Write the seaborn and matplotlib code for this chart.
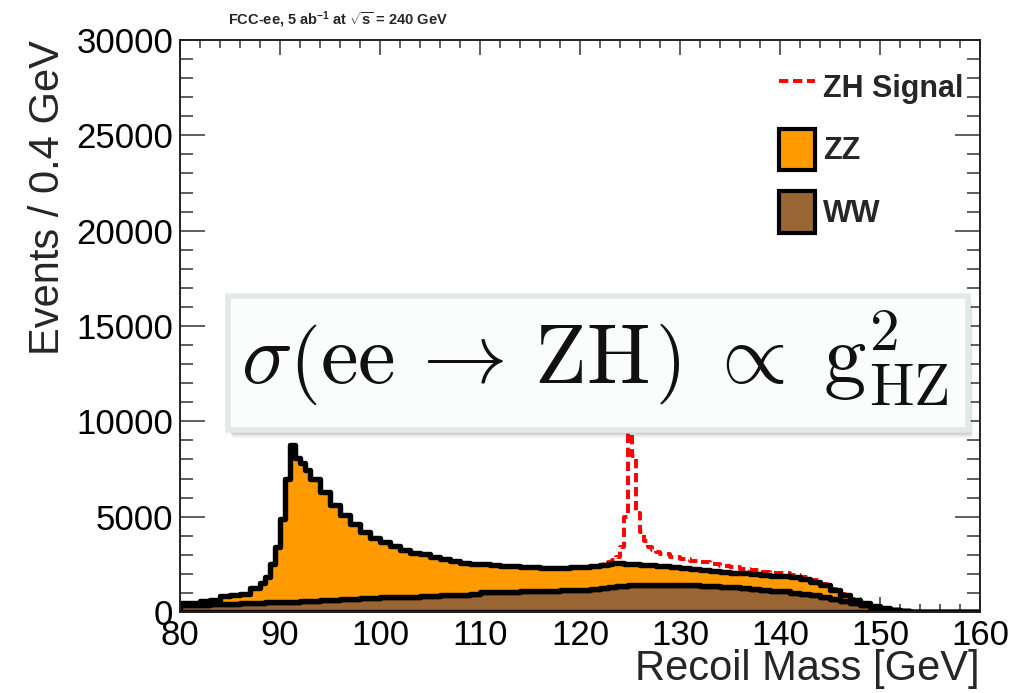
import numpy as np
import pandas as pd
import matplotlib
matplotlib.use("Agg")
import matplotlib.pyplot as plt
import seaborn as sns
from matplotlib.patches import Rectangle, Patch
from matplotlib.lines import Line2D
from matplotlib.ticker import MultipleLocator

# ---------------- data ----------------
# bin edges (GeV): coarse 1 GeV bins, finer bins around the Z and Higgs peaks
bin_edges = np.concatenate([
    np.linspace(80, 88, 9),
    np.linspace(88.5, 93, 10),
    np.linspace(94, 122, 29),
    np.linspace(122.4, 128, 15),
    np.linspace(129, 160, 32),
])

ww_events = [
    350, 370, 390, 410, 420, 440, 460, 480,
    490, 500, 510, 520, 530, 540, 545, 550, 560, 570,
    580, 610, 640, 660, 690, 720, 760, 790, 800, 800, 810, 830, 860, 880, 880,
    870, 950, 1040, 1060, 1070, 1070, 1080, 1080, 1090, 1110, 1140, 1160, 1180, 1230,
    1250, 1280, 1300, 1320, 1340, 1360, 1380, 1390, 1400, 1410, 1420, 1420, 1420, 1420, 1420,
    1420, 1420, 1420, 1400, 1380, 1340, 1320, 1300, 1260, 1220, 1180, 1120, 1080, 1020, 950,
    870, 780, 680, 580, 460, 350, 250, 180, 100, 40, 15, 8, 0, 0, 0, 0, 0,
]

zz_events = [
    100, 110, 210, 240, 400, 440, 490, 770,
    1010, 1350, 1990, 2880, 4370, 6460, 8200, 7550, 7240, 6880,
    6420, 5690, 4960, 4440, 3910, 3480, 3140, 2860, 2650, 2450, 2310, 2220, 2040, 1920, 1800,
    1690, 1550, 1480, 1420, 1350, 1330, 1300, 1290, 1240, 1210, 1190, 1190, 1200, 1190,
    1200, 1200, 1200, 1230, 1210, 1200, 1160, 1140, 1120, 1090, 1070, 1050, 1030, 1020, 1000,
    980, 930, 880, 850, 820, 790, 780, 770, 770, 760, 740, 760, 820, 830, 800,
    710, 620, 500, 320, 190, 100, 70, 50, 20, 10, 5, 2, 0, 0, 0, 0, 0,
]

zh_events = [
    0, 0, 0, 0, 0, 0, 0, 0,
    0, 0, 0, 0, 0, 0, 0, 0, 0, 0,
    0, 0, 0, 0, 0, 0, 0, 0, 0, 0, 0, 0, 0, 0, 0,
    0, 0, 0, 0, 0, 0, 0, 0, 0, 0, 0, 0, 0, 0,
    30, 60, 120, 200, 350, 870, 2460, 10470, 5680, 2700, 1710, 1230, 950, 810, 730,
    650, 550, 500, 450, 400, 370, 320, 310, 250, 220, 200, 170, 130, 110, 100,
    80, 60, 40, 30, 20, 10, 0, 0, 0, 0, 0, 0, 0, 0, 0, 0, 0,
]

processes = ["ZZ", "WW"]
legend_labels = ["ZH Signal", "ZZ", "WW"]
x_ticks = [80, 90, 100, 110, 120, 130, 140, 150, 160]
y_ticks = [0, 5000, 10000, 15000, 20000, 25000, 30000]

# ---------------- style ----------------
ORANGE = "#ff9a00"
BROWN = "#996633"
DASH = (0, (2.4, 1.2))

sns.set_theme(style="ticks")
plt.rcParams["font.family"] = ["Liberation Sans", "DejaVu Sans"]
plt.rcParams["mathtext.fontset"] = "custom"
plt.rcParams["mathtext.rm"] = "Liberation Sans"
plt.rcParams["mathtext.it"] = "Liberation Sans:italic"
plt.rcParams["mathtext.bf"] = "Liberation Sans:bold"

W, H = 1018, 693
fig = plt.figure(figsize=(W / 100, H / 100), dpi=100)
fig.patch.set_facecolor("white")
ax = fig.add_axes([180 / W, (H - 612) / H, 800 / W, 572 / H])

centers = 0.5 * (bin_edges[:-1] + bin_edges[1:])
n = len(centers)
edges_list = [float(e) for e in bin_edges]
bkg = pd.DataFrame({
    "mass": np.concatenate([centers, centers]),
    "events": np.concatenate([zz_events, ww_events]).astype(float),
    "process": ["ZZ"] * n + ["WW"] * n,
})

sns.histplot(data=bkg, x="mass", weights="events", hue="process",
             hue_order=processes, bins=edges_list, multiple="stack",
             element="step", palette={"ZZ": ORANGE, "WW": BROWN},
             edgecolor="black", linewidth=3.9, alpha=1, legend=False, ax=ax)

total_with_signal = (np.array(ww_events) + np.array(zz_events)
                     + np.array(zh_events)).astype(float)
sig = pd.DataFrame({"mass": centers, "events": total_with_signal})
sns.histplot(data=sig, x="mass", weights="events", bins=edges_list,
             element="step", fill=False, color="red", linewidth=2.8,
             linestyle=DASH, zorder=0.9, ax=ax)

ax.set_xlim(80, 160)
ax.set_ylim(0, 30000)
ax.set_xticks(x_ticks)
ax.set_yticks(y_ticks)
ax.xaxis.set_minor_locator(MultipleLocator(2))
ax.yaxis.set_minor_locator(MultipleLocator(1000))
ax.ticklabel_format(axis="y", style="plain", useOffset=False)

ax.tick_params(which="both", direction="in", top=True, right=True,
               color="#333333", width=1.1, labelcolor="black")
ax.tick_params(axis="x", which="major", length=11, labelsize=25, pad=5)
ax.tick_params(axis="x", which="minor", length=5.5)
ax.tick_params(axis="y", which="major", length=18, labelsize=25, pad=5)
ax.tick_params(axis="y", which="minor", length=9.5)
for s in ax.spines.values():
    s.set_linewidth(1.4)
    s.set_color("#222222")

ax.set_xlabel("Recoil Mass [GeV]", fontsize=30, loc="right")
ax.xaxis.set_label_coords(1.0, -0.064)
ax.set_ylabel("Events / 0.4 GeV", fontsize=30, loc="top")
ax.yaxis.set_label_coords(-0.14, 1.0)

handles = [
    Line2D([0], [0], color="red", lw=2.8, linestyle=DASH),
    Patch(facecolor=ORANGE, edgecolor="black", linewidth=3),
    Patch(facecolor=BROWN, edgecolor="black", linewidth=3),
]
ax.legend(handles, legend_labels, loc="upper left",
          bbox_to_anchor=((779 - 180) / 800, (612 - 66) / 572),
          frameon=False, borderpad=0, borderaxespad=0,
          prop={"weight": "bold", "size": 22},
          handlelength=1.18, handleheight=1.7, labelspacing=0.7,
          handletextpad=0.25)

# header
fig.text(338 / W, 1 - 20 / H,
         r"FCC-ee, 5 ab$^{\mathbf{-1}}$ at $\sqrt{\mathbf{s}}$ = 240 GeV",
         ha="center", va="center", fontsize=10.5, fontweight="bold")

# formula overlay box with soft shadow
bx0, by0, bw, bh = 228 / W, 1 - 430 / H, 740 / W, 134 / H
for k in range(1, 10):
    fig.add_artist(Rectangle((bx0 + k * 0.5 / W, by0 - k * 0.9 / H), bw, bh,
                             transform=fig.transFigure, facecolor="black",
                             edgecolor="none", alpha=0.03, zorder=5))
fig.add_artist(Rectangle((bx0, by0), bw, bh, transform=fig.transFigure,
                         facecolor="#fbfcfc", edgecolor="#e3e8e8",
                         linewidth=4, zorder=6))
fig.text(0.5845, 1 - 384 / H,
         r"$\sigma\left(\mathrm{ee}\,\rightarrow\,\mathrm{ZH}_{\,}^{\,}\!\right)\;\propto\;\mathrm{g}^{2}_{\mathrm{HZ}}$",
         fontsize=61, math_fontfamily="cm", ha="center", va="baseline",
         color="#111111", zorder=7)

fig.savefig("out.png", dpi=100)
